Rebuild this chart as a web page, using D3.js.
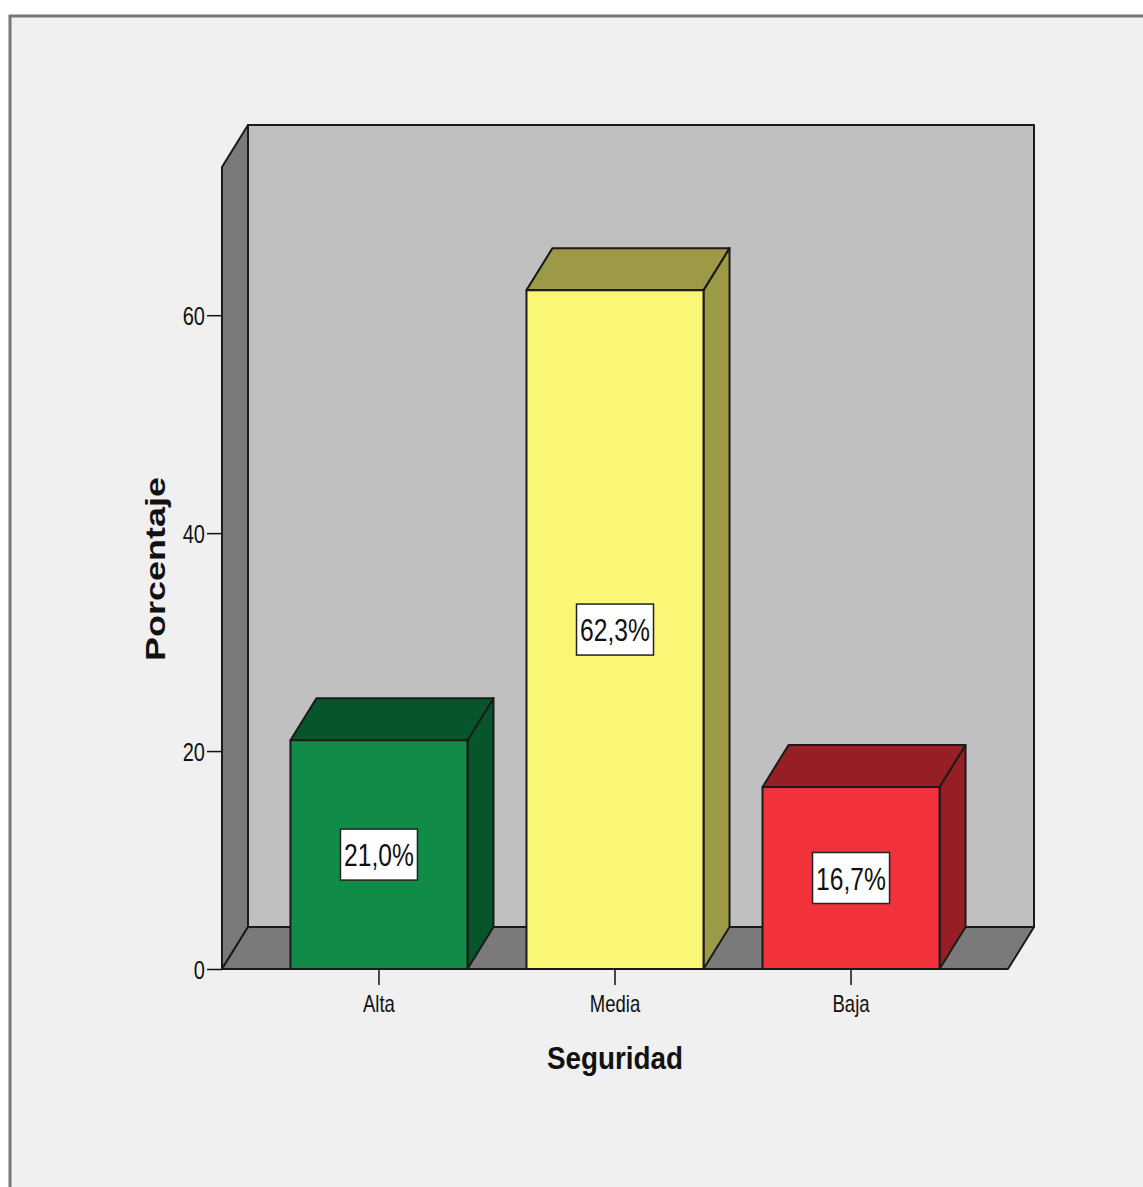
<!DOCTYPE html>
<html>
<head>
<meta charset="utf-8">
<script src="https://cdn.jsdelivr.net/npm/d3@7"></script>
<style>
  html, body { margin: 0; padding: 0; background: #ffffff; }
  svg { display: block; }
  text { font-family: "Liberation Sans", Arial, sans-serif; fill: #111; }
</style>
</head>
<body>
<svg id="chart" width="1143" height="1187"></svg>
<script>
// Seguridad: share of responses per level
const categories = ["Alta", "Media", "Baja"];
const percentages = [21.0, 62.3, 16.7];
const yTickValues = [0, 20, 40, 60];
const yTitle = "Porcentaje";
const xTitle = "Seguridad";

// palette: front faces and shaded top/side faces
const frontColors = ["#118c48", "#faf777", "#f1323b"];
const shadeColors = ["#06552b", "#9c9a47", "#951f24"];

const svg = d3.select("#chart");
const W = 1143, H = 1187;

// plot geometry (front plane) and 3D depth offset
const plotLeft = 222, plotRight = 1008, plotBottom = 969, plotTop = 167;
const dx = 26, dy = 42;
const condense = 0.77;   // horizontal squeeze applied to the labels

const y = d3.scaleLinear().domain([0, 73.6]).range([plotBottom, plotTop]);
const x = d3.scaleBand().domain(categories).range([plotLeft, plotRight])
  .paddingInner(0.25).paddingOuter(0.29);

const fmt = v => d3.format(".1f")(v).replace(".", ",") + "%";

// outer frame
svg.append("rect").attr("x", 0).attr("y", 0).attr("width", W).attr("height", H).attr("fill", "#ffffff");
svg.append("rect").attr("x", 10).attr("y", 16).attr("width", W).attr("height", H)
  .attr("fill", "#f0f0f0").attr("stroke", "#777").attr("stroke-width", 3);

const edge = { stroke: "#1a1a1a", "stroke-width": 2, "stroke-linejoin": "round" };
function poly(g, pts, fill) {
  const p = g.append("polygon").attr("points", pts.map(d => d.join(",")).join(" ")).attr("fill", fill);
  Object.entries(edge).forEach(([k, v]) => p.attr(k, v));
  return p;
}

const box = svg.append("g");
// back wall
poly(box, [[plotLeft + dx, plotTop - dy], [plotRight + dx, plotTop - dy], [plotRight + dx, plotBottom - dy], [plotLeft + dx, plotBottom - dy]], "#c0c0c0");
// left wall
poly(box, [[plotLeft, plotTop], [plotLeft + dx, plotTop - dy], [plotLeft + dx, plotBottom - dy], [plotLeft, plotBottom]], "#7a7a7a");
// floor
poly(box, [[plotLeft, plotBottom], [plotLeft + dx, plotBottom - dy], [plotRight + dx, plotBottom - dy], [plotRight, plotBottom]], "#7a7a7a");

// axes
const yAxis = svg.append("g").attr("transform", `translate(${plotLeft},0)`)
  .call(d3.axisLeft(y).tickValues(yTickValues).tickSize(15).tickPadding(2).tickFormat(d3.format("d")));
yAxis.select(".domain").remove();
yAxis.selectAll(".tick line").attr("stroke", "#111").attr("stroke-width", 1.5);
yAxis.selectAll(".tick text").attr("font-size", 26).attr("font-family", "Liberation Sans, Arial, sans-serif")
  .attr("fill", "#111").attr("dy", "0.36em");

const xAxis = svg.append("g").attr("transform", `translate(0,${plotBottom})`)
  .call(d3.axisBottom(x).tickSize(16).tickPadding(10));
xAxis.select(".domain").remove();
xAxis.selectAll(".tick line").attr("stroke", "#111").attr("stroke-width", 1.5);
xAxis.selectAll(".tick text").attr("font-size", 24).attr("font-family", "Liberation Sans, Arial, sans-serif")
  .attr("fill", "#111").attr("y", 43).attr("dy", null);

// bars
const bars = svg.append("g");
categories.forEach((c, i) => {
  const v = percentages[i];
  const x0 = x(c), x1 = x(c) + x.bandwidth();
  const yt = y(v), yb = y(0);
  const g = bars.append("g");
  // right side
  poly(g, [[x1, yt], [x1 + dx, yt - dy], [x1 + dx, yb - dy], [x1, yb]], shadeColors[i]);
  // top
  poly(g, [[x0, yt], [x0 + dx, yt - dy], [x1 + dx, yt - dy], [x1, yt]], shadeColors[i]);
  // front
  poly(g, [[x0, yt], [x1, yt], [x1, yb], [x0, yb]], frontColors[i]);

  // value label
  const cx = (x0 + x1) / 2, cy = (yt + yb) / 2;
  g.append("rect").attr("x", cx - 38.5).attr("y", cy - 25.5).attr("width", 77).attr("height", 51)
    .attr("fill", "#ffffff").attr("stroke", "#222").attr("stroke-width", 1.5);
  g.append("text").attr("class", "cond").attr("x", cx).attr("y", cy).attr("dy", "0.36em")
    .attr("text-anchor", "middle").attr("font-size", 32).text(fmt(v));
});

// axis titles
svg.append("text").attr("x", 615).attr("y", 1069).attr("text-anchor", "middle")
  .attr("font-size", 32).attr("font-weight", "bold").attr("textLength", 136)
  .attr("lengthAdjust", "spacingAndGlyphs").text(xTitle);

svg.append("text").attr("transform", `translate(165,569) scale(${condense},1) rotate(-90)`)
  .attr("text-anchor", "middle").attr("font-size", 36).attr("font-weight", "bold")
  .text(yTitle);

// squeeze regular labels horizontally
svg.selectAll(".tick text, text.cond").each(function () {
  const len = this.getComputedTextLength();
  d3.select(this).attr("textLength", len * condense).attr("lengthAdjust", "spacingAndGlyphs");
});
</script>
</body>
</html>
